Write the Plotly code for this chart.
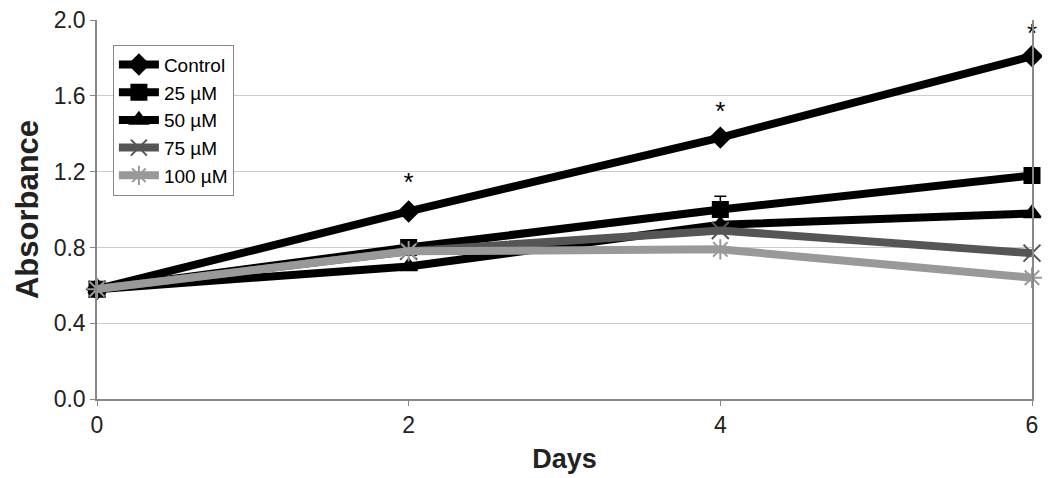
import plotly.graph_objects as go

days = [0, 2, 4, 6]
series_names = ["Control", "25 µM", "50 µM", "75 µM", "100 µM"]
control = [0.58, 0.99, 1.38, 1.81]
uM25 = [0.58, 0.80, 1.00, 1.18]
uM50 = [0.58, 0.70, 0.92, 0.98]
uM75 = [0.58, 0.78, 0.89, 0.77]
uM100 = [0.58, 0.78, 0.79, 0.64]
err25 = [0, 0, 0.07, 0]
star_days = [2, 4, 6]
star_y = [1.13, 1.51, 1.92]

values = [control, uM25, uM50, uM75, uM100]
colors = ["#000000", "#000000", "#000000", "#555555", "#999999"]
symbols = ["diamond", "square", "triangle-up", "x-thin-open", "asterisk-open"]
sizes = [15, 15, 15, 17, 17]

fig = go.Figure()
for i, name in enumerate(series_names):
    kw = {}
    if name == "25 µM":
        kw["error_y"] = dict(type="data", array=err25, color="#000000", thickness=1.5, width=6)
    fig.add_trace(go.Scatter(
        x=days, y=values[i], name=name, mode="lines+markers",
        line=dict(color=colors[i], width=8),
        marker=dict(symbol=symbols[i], size=sizes[i], color=colors[i],
                    line=dict(color=colors[i], width=2)),
        cliponaxis=False,
        **kw
    ))

# asterisks above the control points
fig.add_trace(go.Scatter(
    x=star_days, y=star_y, mode="text", text=["*"] * 3, showlegend=False,
    cliponaxis=False,
    textfont=dict(size=26, color="#000000", family="Liberation Sans")
))

fig.update_layout(
    width=1050, height=478,
    margin=dict(l=89, r=26, t=12, b=87),
    plot_bgcolor="white", paper_bgcolor="white",
    font=dict(family="Liberation Sans, Arial, sans-serif", size=23, color="#222222"),
    showlegend=True,
    legend=dict(x=0.017, y=0.935, xanchor="left", yanchor="top",
                bordercolor="#888888", borderwidth=1, bgcolor="white",
                font=dict(size=19, color="#000000"), tracegroupgap=0,
                itemwidth=40),
    xaxis=dict(range=[0, 6], tickvals=[0, 2, 4, 6], showgrid=False,
               showline=True, linecolor="#888888", linewidth=1.5,
               ticks="outside", ticklen=5, tickcolor="#888888",
               automargin=False,
               title=dict(text="<b>Days</b>", font=dict(size=27, color="#222222"), standoff=12),
               zeroline=False, mirror=False),
    yaxis=dict(range=[0, 2.001], tickvals=[0, 0.4, 0.8, 1.2, 1.6, 2.0],
               tickformat=".1f", showgrid=True, gridcolor="#cccccc", gridwidth=1,
               showline=True, linecolor="#888888", linewidth=1.5, mirror=True,
               ticks="outside", ticklen=5, tickcolor="#888888",
               ticklabeloverflow="allow", automargin=False,
               title=dict(text="<b>Absorbance</b>", font=dict(size=31, color="#222222"), standoff=6),
               zeroline=False),
)

fig.write_html("out.html")
